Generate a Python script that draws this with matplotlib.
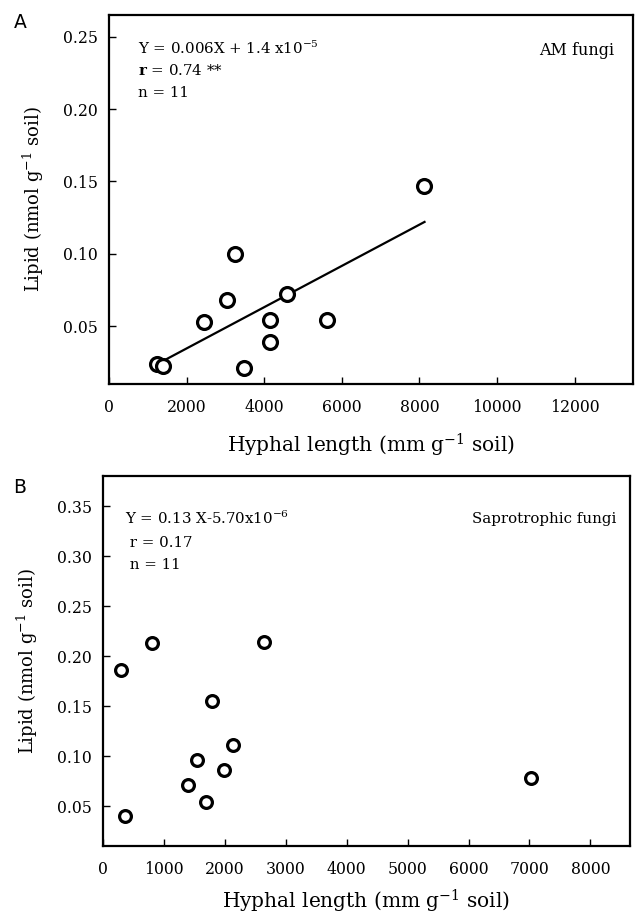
import matplotlib
matplotlib.use('Agg')
import matplotlib.pyplot as plt

plt.rcParams['font.family'] = ['DejaVu Serif']
plt.rcParams['mathtext.fontset'] = 'dejavuserif'

# Panel A - AM fungi
am_hyphal = [8110, 3260, 3030, 4590, 2440, 4140, 5630, 4140, 3470, 1250, 1400]
am_lipid = [0.147, 0.100, 0.068, 0.072, 0.053, 0.054, 0.054, 0.039, 0.021, 0.024, 0.0225]
am_fit_x = [1400, 8130]
am_fit_y = [0.026, 0.122]

# Panel B - saprotrophic fungi
sap_hyphal = [290, 800, 2640, 1790, 2130, 1540, 1980, 1390, 1690, 7030, 360]
sap_lipid = [0.186, 0.213, 0.214, 0.155, 0.111, 0.096, 0.086, 0.071, 0.054, 0.078, 0.040]

fig = plt.figure(figsize=(6.37, 9.16), dpi=100)
axA = fig.add_axes([0.171, 0.5808, 0.8227, 0.4028])
axB = fig.add_axes([0.1617, 0.0764, 0.8273, 0.4039])

ylab = 'Lipid (nmol g$^{-1}$ soil)'
xlab = 'Hyphal length (mm g$^{-1}$ soil)'

for ax in (axA, axB):
    for s in ax.spines.values():
        s.set_linewidth(1.6)
    ax.tick_params(direction='in', length=5, width=1, labelsize=11.3)
    ax.tick_params(axis='x', pad=11)
    ax.tick_params(axis='y', pad=8)
    ax.set_ylabel(ylab, fontsize=13, labelpad=12)
axA.set_xlabel(xlab, fontsize=14.5, labelpad=11)
axB.set_xlabel(xlab, fontsize=14.5, labelpad=7)

# A
axA.plot(am_fit_x, am_fit_y, color='black', lw=1.6)
axA.plot(am_hyphal, am_lipid, 'o', ms=10, mfc='white', mec='black', mew=2.3)
axA.set_xlim(0, 13500)
axA.set_ylim(0.01, 0.265)
axA.set_xticks(range(0, 12001, 2000))
axA.set_yticks([0.05, 0.10, 0.15, 0.20, 0.25])
axA.set_yticklabels(['0.05', '0.10', '0.15', '0.20', '0.25'])
axA.text(0.055, 0.91, 'Y = 0.006X + 1.4 x10$^{-5}$', transform=axA.transAxes, fontsize=10.8, va='center')
axA.text(0.055, 0.85, r'$\mathbf{r}$ = 0.74 **', transform=axA.transAxes, fontsize=10.8, va='center')
axA.text(0.055, 0.79, 'n = 11', transform=axA.transAxes, fontsize=10.8, va='center')
axA.text(0.965, 0.905, 'AM fungi', transform=axA.transAxes, fontsize=11.5, va='center', ha='right')
fig.text(20 / 637, 1 - 22 / 916, 'A', family='DejaVu Sans', fontsize=13.5, ha='center', va='center')

# B
axB.plot(sap_hyphal, sap_lipid, 'o', ms=8.5, mfc='white', mec='black', mew=2.3)
axB.set_xlim(0, 8650)
axB.set_ylim(0.01, 0.38)
axB.set_xticks(range(0, 8001, 1000))
axB.set_yticks([0.05, 0.10, 0.15, 0.20, 0.25, 0.30, 0.35])
axB.set_yticklabels(['0.05', '0.10', '0.15', '0.20', '0.25', '0.30', '0.35'])
axB.text(0.042, 0.885, 'Y = 0.13 X-5.70x10$^{-6}$', transform=axB.transAxes, fontsize=10.8, va='center')
axB.text(0.042, 0.82, ' r = 0.17', transform=axB.transAxes, fontsize=10.8, va='center')
axB.text(0.042, 0.76, ' n = 11', transform=axB.transAxes, fontsize=10.8, va='center')
axB.text(0.975, 0.885, 'Saprotrophic fungi', transform=axB.transAxes, fontsize=10.8, va='center', ha='right')
fig.text(20 / 637, 1 - 487 / 916, 'B', family='DejaVu Sans', fontsize=13.5, ha='center', va='center')

fig.savefig('out.png', dpi=100)
